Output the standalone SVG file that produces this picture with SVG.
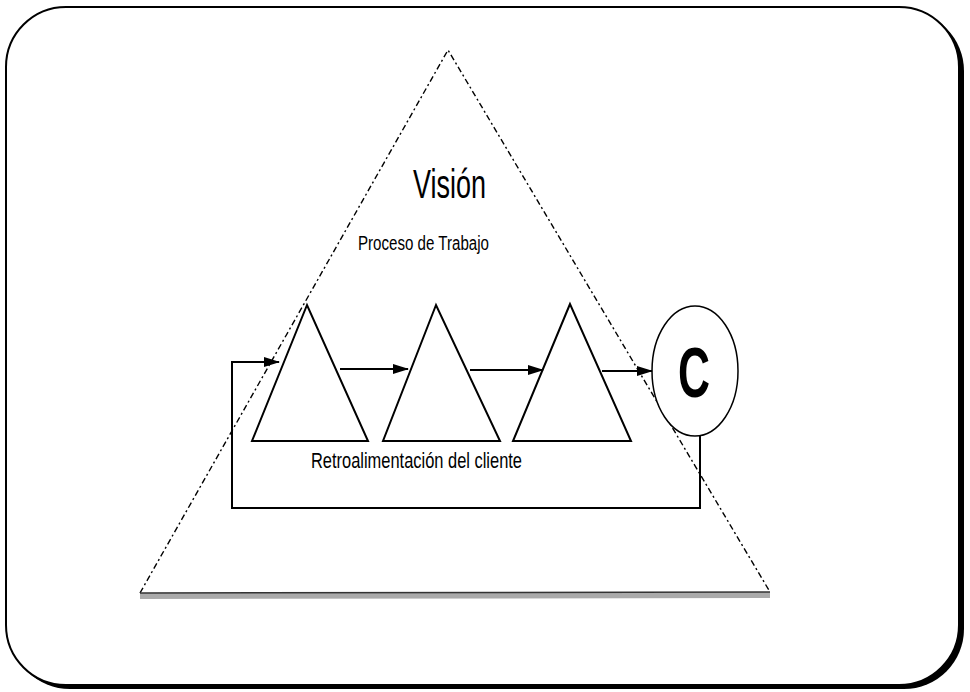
<svg xmlns="http://www.w3.org/2000/svg" width="970" height="692" viewBox="0 0 970 692">
<style>
.tri{fill:none;stroke:#000;stroke-width:2;stroke-linejoin:miter}
.conn{fill:none;stroke:#000;stroke-width:2}
.lbl{font-family:"Liberation Sans",Arial,sans-serif;fill:#000}
</style>
<defs>
<marker id="ah" viewBox="0 0 16 10" refX="15" refY="5" markerWidth="16" markerHeight="10" markerUnits="userSpaceOnUse" orient="auto">
<path d="M0,0 L16,5 L0,10 Z" fill="#000"/>
</marker>
</defs>
<rect width="970" height="692" fill="#fff"/>
<g id="frame">
<rect x="10" y="11" width="954" height="678" rx="60" ry="60" fill="#000"/>
<rect x="6" y="7" width="953" height="678" rx="60" ry="60" fill="#fff" stroke="#000" stroke-width="2"/>
</g>
<g id="vision">
<path d="M140,593 L448,50 L770,592" fill="none" stroke="#000" stroke-width="1.4" stroke-dasharray="6 3 2 3"/>
<line x1="140" y1="596" x2="770" y2="595" stroke="#aaa" stroke-width="6"/>
<line x1="140" y1="593" x2="770" y2="592" stroke="#333" stroke-width="1.5"/>
<text class="lbl" x="413" y="198" font-size="41" textLength="73" lengthAdjust="spacingAndGlyphs">Visión</text>
</g>
<g id="proceso-label">
<text class="lbl" x="358" y="250" font-size="20" textLength="131" lengthAdjust="spacingAndGlyphs">Proceso de Trabajo</text>
</g>
<g id="t1"><path class="tri" d="M307,305 L252,441 L368,441 Z"/></g>
<g id="t2"><path class="tri" d="M436,305 L383,441 L500,441 Z"/></g>
<g id="t3"><path class="tri" d="M570,304 L513,441 L631,441 Z"/></g>
<g id="cliente">
<ellipse cx="695" cy="371" rx="43" ry="65" fill="#fff" stroke="#000" stroke-width="1.5"/>
<text class="lbl" x="678" y="397" font-size="70" font-weight="bold" textLength="32" lengthAdjust="spacingAndGlyphs">C</text>
</g>
<g id="connectors">
<path class="conn" d="M700,436 V508 H232 V362 H279" marker-end="url(#ah)"/>
<line class="conn" x1="340" y1="369" x2="408" y2="369" marker-end="url(#ah)"/>
<line class="conn" x1="470" y1="370" x2="543" y2="370" marker-end="url(#ah)"/>
<line class="conn" x1="602" y1="371" x2="652" y2="371" marker-end="url(#ah)"/>
</g>
<g id="feedback-label">
<text class="lbl" x="311" y="468" font-size="22" textLength="211" lengthAdjust="spacingAndGlyphs">Retroalimentación del cliente</text>
</g>
</svg>
